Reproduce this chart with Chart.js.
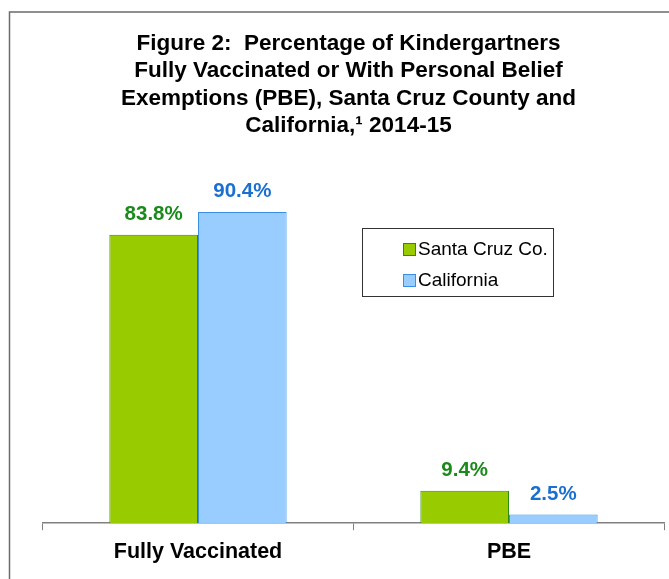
<!DOCTYPE html>
<html>
<head>
<meta charset="utf-8">
<script src="https://cdn.jsdelivr.net/npm/chart.js@4"></script>
<style>
  html, body { margin: 0; padding: 0; background: #fff; }
  #wrap { width: 669px; height: 579px; }
</style>
</head>
<body>
<div id="wrap"><canvas id="vax" width="669" height="579"></canvas></div>
<script>
const categories = ['Fully Vaccinated', 'PBE'];
const santaCruz = [83.8, 9.4];
const california = [90.4, 2.5];
const seriesNames = ['Santa Cruz Co.', 'California'];
const titleLines = [
    'Figure 2:  Percentage of Kindergartners',
    'Fully Vaccinated or With Personal Belief',
    'Exemptions (PBE), Santa Cruz County and',
    'California,\u00B9 2014-15'
];

const FONT = "'Liberation Sans', Arial, sans-serif";
const labelColors = ['#1a8a1a', '#1a6fd0'];

// frame, title, value labels and boxed legend
const extras = {
    id: 'extras',
    beforeDraw(chart) {
        const ctx = chart.ctx;
        ctx.save();
        ctx.strokeStyle = '#6b6b6b';
        ctx.lineWidth = 1.5;
        ctx.beginPath();
        ctx.moveTo(9.5, 579);
        ctx.lineTo(9.5, 12);
        ctx.lineTo(669, 12);
        ctx.stroke();
        ctx.restore();
    },
    afterDraw(chart) {
        const ctx = chart.ctx;
        ctx.save();
        // title
        ctx.fillStyle = '#000';
        ctx.font = 'bold 22.5px ' + FONT;
        ctx.textAlign = 'center';
        ctx.textBaseline = 'alphabetic';
        titleLines.forEach((t, i) => ctx.fillText(t, 348.5, 50 + i * 27.3));

        // value labels
        ctx.font = 'bold 20.5px ' + FONT;
        chart.data.datasets.forEach((ds, di) => {
            ctx.fillStyle = labelColors[di];
            chart.getDatasetMeta(di).data.forEach((bar, i) => {
                ctx.fillText(ds.data[i].toFixed(1) + '%', bar.x, bar.y - 15);
            });
        });

        // legend box
        ctx.strokeStyle = '#333';
        ctx.lineWidth = 1;
        ctx.strokeRect(362.5, 228.5, 191, 68);
        ctx.font = '19px ' + FONT;
        ctx.textAlign = 'left';
        ctx.textBaseline = 'middle';
        chart.data.datasets.forEach((ds, di) => {
            const y = 249 + di * 31;
            ctx.fillStyle = ds.backgroundColor;
            ctx.fillRect(403, y - 6, 13, 13);
            ctx.strokeStyle = ds.borderColor;
            ctx.strokeRect(403.5, y - 5.5, 12, 12);
            ctx.fillStyle = '#000';
            ctx.fillText(ds.label, 418, y + 1);
        });
        ctx.restore();
    }
};

new Chart('vax', {
    type: 'bar',
    data: {
        labels: categories,
        datasets: [{
            label: seriesNames[0],
            data: santaCruz,
            backgroundColor: '#99cc00',
            borderColor: '#2f8a10',
            borderWidth: 1
        }, {
            label: seriesNames[1],
            data: california,
            backgroundColor: '#99ccff',
            borderColor: '#3a8ee6',
            borderWidth: 1
        }]
    },
    options: {
        responsive: false,
        animation: false,
        categoryPercentage: 0.57,
        barPercentage: 1,
        layout: {
            padding: { top: 179, left: 42.5, right: 4.5, bottom: 5 }
        },
        scales: {
            y: {
                display: false,
                min: 0,
                max: 100
            },
            x: {
                border: { color: '#808080', width: 1.5 },
                grid: {
                    display: true,
                    drawOnChartArea: false,
                    color: '#808080',
                    tickLength: 7,
                    offset: true
                },
                ticks: {
                    color: '#000',
                    padding: 9,
                    font: { family: FONT, size: 21.5, weight: 'bold' }
                }
            }
        },
        plugins: {
            legend: { display: false },
            title: { display: false },
            tooltip: { enabled: false }
        }
    },
    plugins: [extras]
});
</script>
</body>
</html>
